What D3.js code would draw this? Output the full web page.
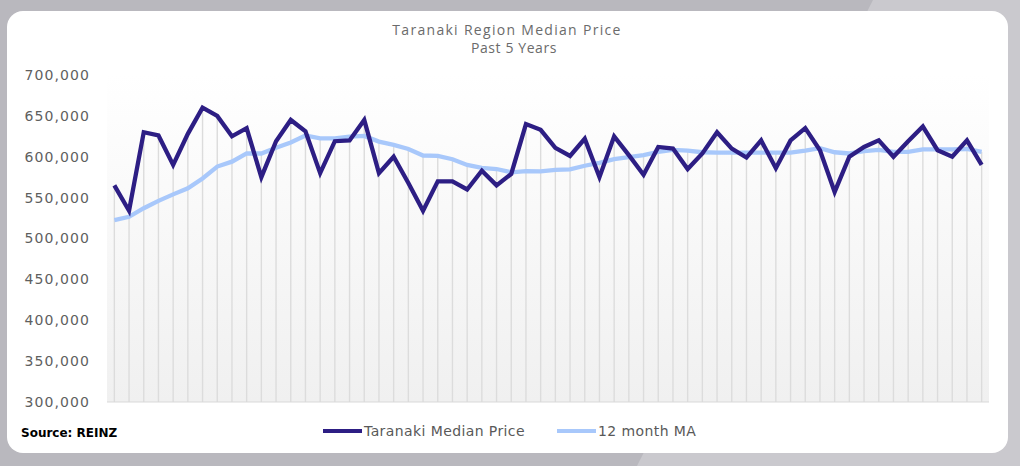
<!DOCTYPE html>
<html>
<head>
<meta charset="utf-8">
<script src="https://cdn.jsdelivr.net/npm/d3@7"></script>
<style>
  body { margin: 0; background: #b9b8be; }
  svg { display: block; }
</style>
</head>
<body>
<svg id="chart"></svg>
<script>
// monthly median price, past 5 years
const price = [565000, 534000, 630000, 626000, 590000, 628000, 660000, 650000, 625000, 635000,
               575000, 619000, 645000, 631000, 580000, 619000, 620000, 645000, 580000, 600000,
               568000, 534000, 570000, 570000, 560000, 583000, 565000, 579000, 640000, 633000,
               611000, 601000, 622000, 575000, 625000, 602000, 578000, 612000, 610000, 585000,
               604000, 630000, 610000, 599000, 620000, 586000, 620000, 635000, 608000, 557000,
               600000, 612000, 620000, 600000, 619000, 637000, 608000, 600000, 620000, 590000];

// 12 month moving average
const ma = [522500, 526500, 537000, 546000, 554000, 561500, 573500, 588000, 594000, 604000,
            604000, 611000, 617500, 626000, 622500, 622500, 624500, 625500, 618500, 614500,
            609500, 601500, 601000, 597000, 590000, 586500, 585000, 581000, 582500, 582000,
            584000, 584500, 589000, 592500, 597000, 599500, 602000, 606000, 608500, 607500,
            605500, 605000, 605000, 605000, 605000, 605000, 605000, 607500, 610500, 605500,
            604000, 607000, 608500, 606000, 606000, 609000, 609000, 609000, 609500, 606000];

const yticks = [300000, 350000, 400000, 450000, 500000, 550000, 600000, 650000, 700000];
const seriesNames = ['Taranaki Median Price', '12 month MA'];
const seriesColors = ['#2d1e84', '#a8c8fb'];

class MedianChart {

    constructor( config ){
        this.config = {
            parent: config.parent,
            width: config.width || 1020,
            height: config.height || 466,
            margin: config.margin || {top:75, right:31, bottom:64, left:107}
        }
        this.init();
    }

    init(){
        let self = this;
        const W = self.config.width, H = self.config.height;

        self.svg = d3.select( self.config.parent )
            .attr('width', W)
            .attr('height', H);

        // backdrop
        self.svg.append('rect')
            .attr('width', W).attr('height', H)
            .attr('fill', '#b9b8be');
        self.svg.append('path')
            .attr('d', `M873,0 L${W},0 L${W},${H} L637,${H} Z`)
            .attr('fill', '#cac9ce');

        const defs = self.svg.append('defs');
        const grad = defs.append('linearGradient')
            .attr('id', 'plotbg')
            .attr('x1', 0).attr('y1', 0).attr('x2', 0).attr('y2', 1);
        grad.append('stop').attr('offset', '0%').attr('stop-color', '#ffffff');
        grad.append('stop').attr('offset', '100%').attr('stop-color', '#f0f0f0');

        // white card
        self.svg.append('rect')
            .attr('x', 7).attr('y', 11)
            .attr('width', 1001).attr('height', 442)
            .attr('rx', 16).attr('ry', 16)
            .attr('fill', '#ffffff');

        self.inner_width = W - self.config.margin.left - self.config.margin.right;
        self.inner_height = H - self.config.margin.top - self.config.margin.bottom;

        self.chart = self.svg.append('g')
            .attr('transform', `translate(${self.config.margin.left}, ${self.config.margin.top})`);

        self.chart.append('rect')
            .attr('width', self.inner_width)
            .attr('height', self.inner_height)
            .attr('fill', 'url(#plotbg)');

        self.xscale = d3.scaleBand()
            .range( [0, self.inner_width] );

        self.yscale = d3.scaleLinear()
            .range( [self.inner_height, 0] );

        self.yaxis = d3.axisLeft( self.yscale )
            .tickValues( yticks )
            .tickSize(0)
            .tickPadding(17)
            .tickFormat( d3.format(',') );

        self.drop_group = self.chart.append('g');
        self.yaxis_group = self.chart.append('g');

        // titles
        self.svg.append('text')
            .attr('x', 507).attr('y', 35)
            .attr('text-anchor', 'middle')
            .style('font-family', '"Open Sans", sans-serif')
            .style('font-size', '14px')
            .style('letter-spacing', '1.3px')
            .attr('fill', '#6b6b6b')
            .text('Taranaki Region Median Price');
        self.svg.append('text')
            .attr('x', 514).attr('y', 53)
            .attr('text-anchor', 'middle')
            .style('font-family', '"Open Sans", sans-serif')
            .style('font-size', '14px')
            .style('letter-spacing', '0.6px')
            .attr('fill', '#6b6b6b')
            .text('Past 5 Years');

        self.svg.append('text')
            .attr('x', 21).attr('y', 437)
            .style('font-family', '"DejaVu Sans", sans-serif')
            .style('font-size', '12px')
            .style('font-weight', 'bold')
            .attr('fill', '#000000')
            .text('Source: REINZ');

        // legend
        const legend = self.svg.append('g')
            .attr('transform', 'translate(323, 431)');
        const lx = [0, 234];
        seriesNames.forEach((name, i) => {
            legend.append('line')
                .attr('x1', lx[i]).attr('x2', lx[i] + 39)
                .attr('y1', 0).attr('y2', 0)
                .attr('stroke', seriesColors[i])
                .attr('stroke-width', 4);
            legend.append('text')
                .attr('x', lx[i] + 41).attr('y', 5)
                .style('font-family', '"DejaVu Sans", sans-serif')
                .style('font-size', '14px')
                .style('letter-spacing', '0.4px')
                .attr('fill', '#595959')
                .text(name);
        });
    }

    update(){
        let self = this;
        self.xscale.domain( price.map((d, i) => i) );
        self.yscale.domain( [300000, 700000] );
        self.render();
    }

    render(){
        let self = this;
        const cx = i => self.xscale(i) + self.xscale.bandwidth() / 2;

        // drop lines from the higher of the two series
        self.drop_group.selectAll('line')
            .data(price)
            .join('line')
            .attr('x1', (d, i) => cx(i))
            .attr('x2', (d, i) => cx(i))
            .attr('y1', (d, i) => self.yscale(Math.max(d, ma[i])))
            .attr('y2', self.inner_height)
            .attr('stroke', '#dcdcdc')
            .attr('stroke-width', 1.4);

        self.chart.append('line')
            .attr('x1', 0).attr('x2', self.inner_width)
            .attr('y1', self.inner_height).attr('y2', self.inner_height)
            .attr('stroke', '#d9d9d9')
            .attr('stroke-width', 1);

        [ma, price].forEach((series, k) => {
            const line = d3.line()
                .x( (d, i) => cx(i) )
                .y( d => self.yscale(d) );
            self.chart.append('path')
                .attr('d', line(series))
                .attr('fill', 'none')
                .attr('stroke', k === 0 ? seriesColors[1] : seriesColors[0])
                .attr('stroke-width', 4.3)
                .attr('stroke-linejoin', 'miter')
                .attr('stroke-linecap', 'butt');
        });

        self.yaxis_group
            .call( self.yaxis );
        self.yaxis_group.select('.domain').remove();
        self.yaxis_group.selectAll('text')
            .style('font-family', '"DejaVu Sans", sans-serif')
            .style('font-size', '14px')
            .style('letter-spacing', '1.1px')
            .attr('fill', '#5f5f5f');
    }
}

const chart = new MedianChart({ parent: '#chart' });
chart.update();
</script>
</body>
</html>
